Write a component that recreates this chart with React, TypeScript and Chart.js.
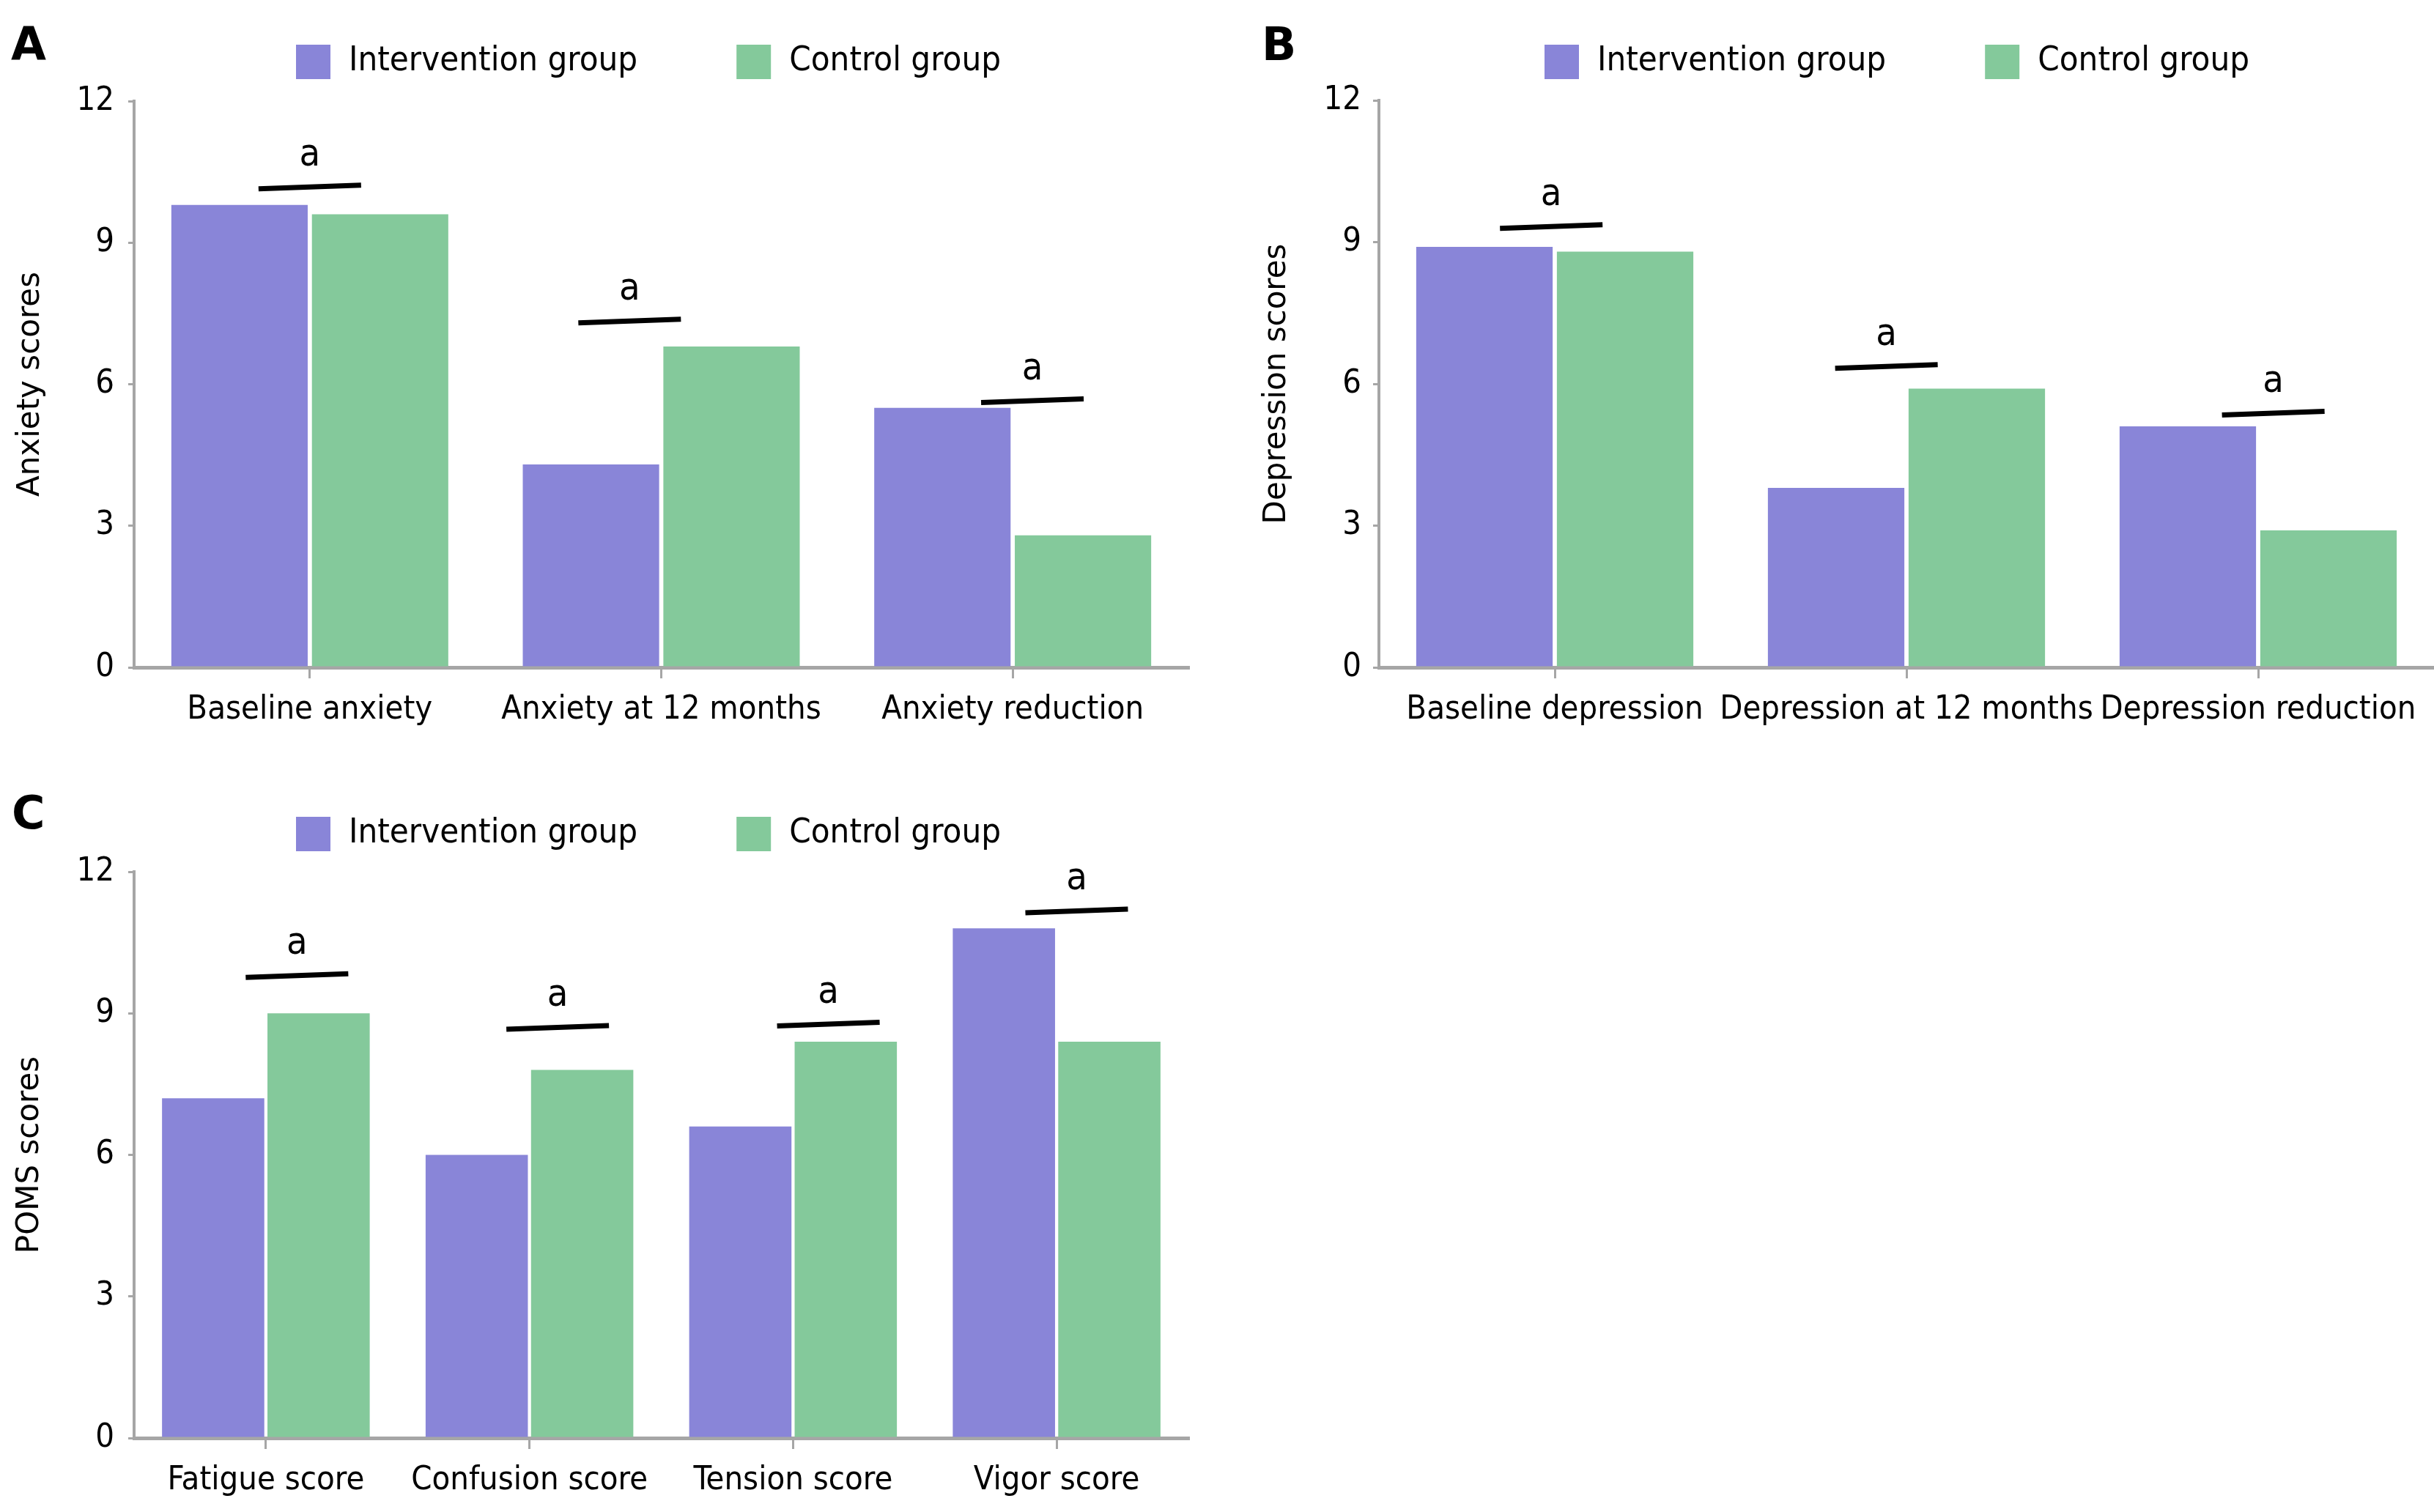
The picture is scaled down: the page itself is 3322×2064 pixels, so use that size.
import React, { useEffect, useRef } from 'react';
import { Chart, registerables } from 'chart.js';

Chart.register(...registerables);

// ---------- data ----------
const seriesLabels = ['Intervention group', 'Control group'];
const seriesColors = ['#8985D8', '#84C99B'];
const markText = 'a';

const anxietyCategories = ['Baseline anxiety', 'Anxiety at 12 months', 'Anxiety reduction'];
const anxietyIntervention = [9.8, 4.3, 5.5];
const anxietyControl = [9.6, 6.8, 2.8];
const anxietyMarkValue = [10.18, 7.34, 5.65];
const anxietyMarkShift = [0, -0.09, 0.056];

const depressionCategories = ['Baseline depression', 'Depression at 12 months', 'Depression reduction'];
const depressionIntervention = [8.9, 3.8, 5.1];
const depressionControl = [8.8, 5.9, 2.9];
const depressionMarkValue = [9.33, 6.37, 5.38];
const depressionMarkShift = [-0.01, -0.057, 0.043];

const pomsCategories = ['Fatigue score', 'Confusion score', 'Tension score', 'Vigor score'];
const pomsIntervention = [7.2, 6.0, 6.6, 10.8];
const pomsControl = [9.0, 7.8, 8.4, 8.4];
const pomsMarkValue = [9.8, 8.7, 8.77, 11.17];
const pomsMarkShift = [0.118, 0.107, 0.134, 0.076];

const yMin = 0;
const yMax = 12;
const yStep = 3;

// ---------- styles ----------
const COND = "'DejaVu Sans Condensed', 'Liberation Sans', sans-serif";
const WIDE = "'DejaVu Sans', 'Liberation Sans', sans-serif";
const AXIS_GRAY = '#a6a6a6';

type PanelDef = {
  letter: string;
  yTitle: string;
  categories: string[];
  intervention: number[];
  control: number[];
  markValue: number[];
  markShift: number[];
  left: number;
  top: number;
  w: number;
  h: number;
  chartLeft: number;
  padTop: number;
  padRight: number;
  xHeight: number;
  titlePad: number;
  yTickPad: number;
  legendOffset: number;
  legendDy: number;
  letterX: number;
  letterY: number;
};

const panels: PanelDef[] = [
  {
    letter: 'A', yTitle: 'Anxiety scores', categories: anxietyCategories,
    intervention: anxietyIntervention, control: anxietyControl,
    markValue: anxietyMarkValue, markShift: anxietyMarkShift,
    left: 0, top: 0, w: 1661, h: 1040, chartLeft: 183, padTop: 138, padRight: 39, xHeight: 129,
    titlePad: 17, yTickPad: 27, legendOffset: 221, legendDy: -54, letterX: 15, letterY: 81,
  },
  {
    letter: 'B', yTitle: 'Depression scores', categories: depressionCategories,
    intervention: depressionIntervention, control: depressionControl,
    markValue: depressionMarkValue, markShift: depressionMarkShift,
    left: 1661, top: 0, w: 1661, h: 1040, chartLeft: 221, padTop: 137, padRight: 0, xHeight: 129,
    titlePad: 57, yTickPad: 24, legendOffset: 226, legendDy: -53, letterX: 61, letterY: 82,
  },
  {
    letter: 'C', yTitle: 'POMS scores', categories: pomsCategories,
    intervention: pomsIntervention, control: pomsControl,
    markValue: pomsMarkValue, markShift: pomsMarkShift,
    left: 0, top: 1040, w: 1661, h: 1024, chartLeft: 183, padTop: 150, padRight: 39, xHeight: 101,
    titlePad: 16, yTickPad: 27, legendOffset: 221, legendDy: -52, letterX: 16, letterY: 91,
  },
];

function makeDecor(p: PanelDef) {
  return {
    id: 'panelDecor' + p.letter,
    afterDraw(chart: any) {
      const ctx = chart.ctx as CanvasRenderingContext2D;
      const area = chart.chartArea;
      const xs = chart.scales.x;
      const ys = chart.scales.y;
      ctx.save();

      // significance marks
      const catW = (area.right - area.left) / p.categories.length;
      p.markValue.forEach((v, i) => {
        const cx = xs.getPixelForValue(i) + p.markShift[i] * catW;
        const cy = ys.getPixelForValue(v);
        ctx.strokeStyle = '#000';
        ctx.lineWidth = 7;
        ctx.lineCap = 'butt';
        ctx.beginPath();
        ctx.moveTo(cx - 70, cy + 2.5);
        ctx.lineTo(cx + 70, cy - 2.5);
        ctx.stroke();
        ctx.fillStyle = '#000';
        ctx.font = `52px ${COND}`;
        ctx.textAlign = 'center';
        ctx.textBaseline = 'middle';
        ctx.fillText(markText, cx, cy - 43);
      });

      // legend
      const ly = area.top + p.legendDy;
      let lx = area.left + p.legendOffset;
      ctx.font = `47px ${COND}`;
      ctx.textAlign = 'left';
      ctx.textBaseline = 'middle';
      chart.data.datasets.forEach((ds: any) => {
        ctx.fillStyle = ds.backgroundColor;
        ctx.fillRect(lx, ly - 23, 47, 47);
        lx += 47 + 25;
        ctx.fillStyle = '#000';
        ctx.fillText(ds.label, lx, ly);
        lx += ctx.measureText(ds.label).width + 135;
      });

      // panel letter
      ctx.font = `bold 62px ${WIDE}`;
      ctx.textAlign = 'left';
      ctx.textBaseline = 'alphabetic';
      ctx.fillStyle = '#000';
      ctx.fillText(p.letter, p.letterX, p.letterY);
      ctx.restore();
    },
  };
}

function BarPanel({ p }: { p: PanelDef }) {
  const ref = useRef<HTMLCanvasElement>(null);
  useEffect(() => {
    const canvas = ref.current;
    if (!canvas) return;
    const chart = new Chart(canvas, {
      type: 'bar',
      data: {
        labels: p.categories,
        datasets: [
          { label: seriesLabels[0], data: p.intervention, backgroundColor: seriesColors[0], borderWidth: 0 },
          { label: seriesLabels[1], data: p.control, backgroundColor: seriesColors[1], borderWidth: 0 },
        ],
      },
      options: {
        responsive: false,
        animation: false,
        devicePixelRatio: 1,
        layout: { padding: { left: 0, top: p.padTop, right: p.padRight, bottom: 0 } },
        datasets: { bar: { categoryPercentage: 0.8, barPercentage: 0.97 } },
        plugins: {
          legend: { display: false },
          tooltip: { enabled: false },
        },
        scales: {
          x: {
            offset: true,
            grid: {
              display: true,
              drawOnChartArea: false,
              drawTicks: true,
              tickLength: 15,
              offset: false,
              color: AXIS_GRAY,
              lineWidth: 3,
            },
            border: { display: true, color: AXIS_GRAY, width: 5 },
            ticks: {
              autoSkip: false,
              maxRotation: 0,
              minRotation: 0,
              padding: 16,
              color: '#000',
              font: { family: COND, size: 45 },
            },
            afterFit: (s: any) => { s.height = p.xHeight; },
          },
          y: {
            min: yMin,
            max: yMax,
            grid: {
              display: true,
              drawOnChartArea: false,
              drawTicks: true,
              tickLength: 8,
              color: AXIS_GRAY,
              lineWidth: 3,
            },
            border: { display: true, color: AXIS_GRAY, width: 4 },
            ticks: {
              stepSize: yStep,
              padding: p.yTickPad - 8,
              color: '#000',
              font: { family: COND, size: 45 },
            },
            title: {
              display: true,
              text: p.yTitle,
              color: '#000',
              font: { family: WIDE, size: 42 },
              padding: { top: p.titlePad, bottom: 0 },
            },
            afterFit: (s: any) => { s.width = p.chartLeft; },
          },
        },
      },
      plugins: [makeDecor(p)],
    } as any);
    return () => chart.destroy();
  }, [p]);
  return (
    <canvas
      ref={ref}
      width={p.w}
      height={p.h}
      style={{ position: 'absolute', left: p.left, top: p.top, width: p.w, height: p.h }}
    />
  );
}

export default function App() {
  useEffect(() => {
    document.body.style.margin = '0';
    document.body.style.background = '#fff';
  }, []);
  return (
    <div style={{ position: 'absolute', left: 0, top: 0, width: 3322, height: 2064, background: '#fff', overflow: 'hidden' }}>
      {panels.map((p) => (
        <BarPanel key={p.letter} p={p} />
      ))}
    </div>
  );
}
